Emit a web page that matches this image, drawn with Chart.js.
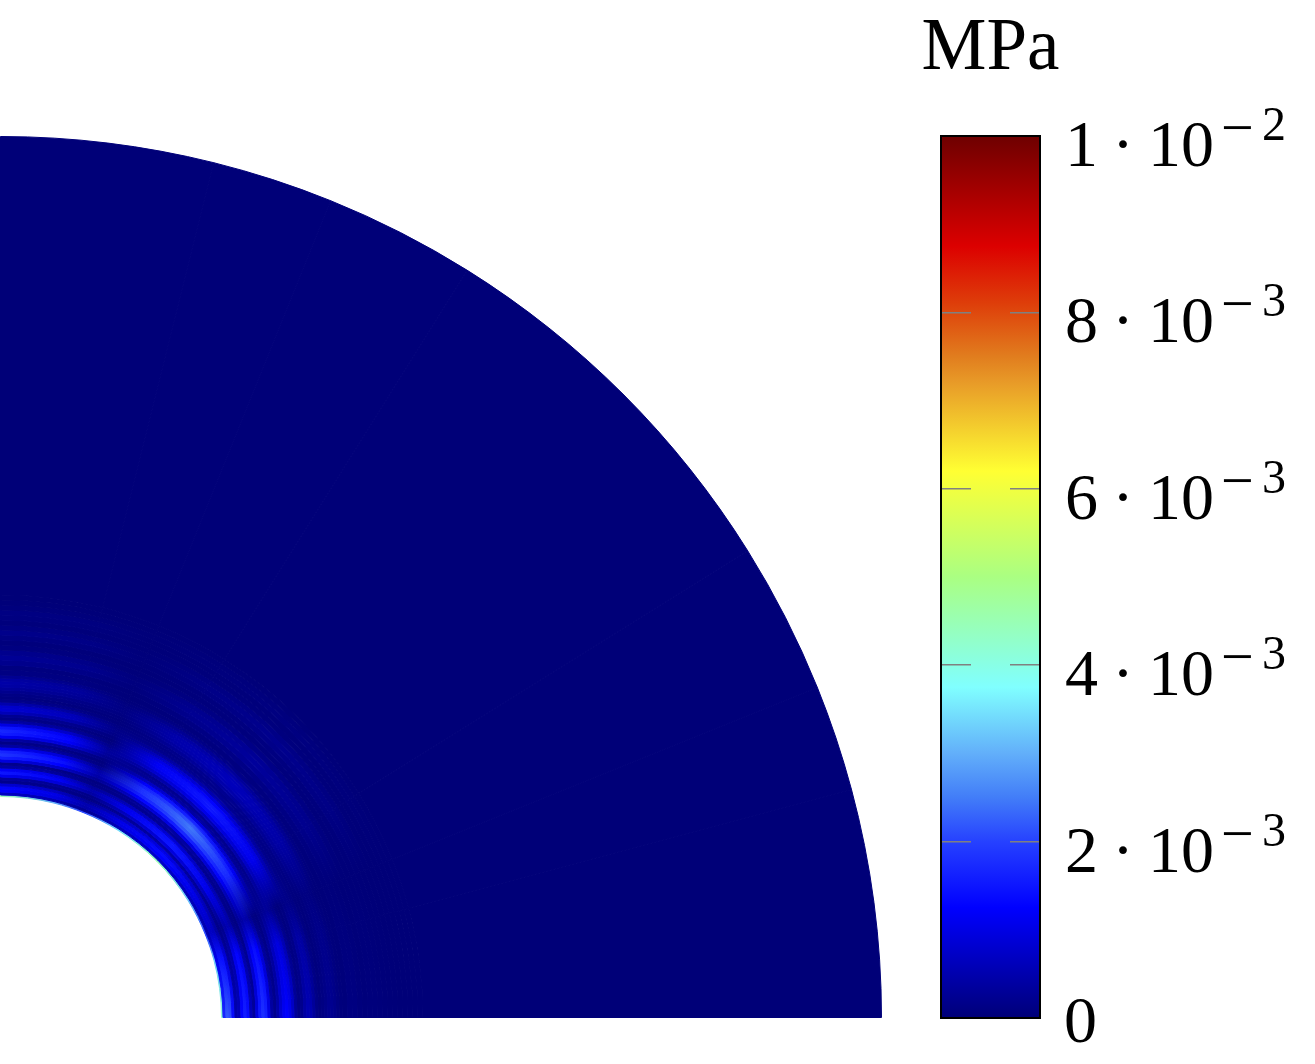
<!DOCTYPE html>
<html><head><meta charset="utf-8">
<style>
html,body{margin:0;padding:0;background:#fff;width:1315px;height:1064px;overflow:hidden}
canvas{position:absolute;display:block}
#field{left:0;top:136px}
#bar{left:666px;top:0}
</style>
<script src="https://cdn.jsdelivr.net/npm/chart.js@4"></script>
</head><body>
<canvas id="field" width="882" height="882" style="width:882px;height:882px"></canvas>
<canvas id="bar" width="649" height="1064" style="width:649px;height:1064px"></canvas>
<script>
// Colour scale, value in 1e-3 MPa
const scaleStops = [[0,[0,0,120]],[1.25,[0,0,255]],[2,[38,65,255]],[2.5,[66,125,248]],[3,[98,175,250]],[3.75,[128,255,255]],[5,[170,255,130]],[6.2,[255,255,51]],[7.2,[232,155,40]],[7.5,[225,125,30]],[8.1,[222,62,10]],[8.75,[220,0,0]],[10,[110,0,0]]];
const tickValues = [0,0.002,0.004,0.006,0.008,0.01];
const tickLabels = ['0','2 · 10','4 · 10','6 · 10','8 · 10','1 · 10'];
const tickExponents = ['','−3','−3','−3','−3','−2'];
const unitLabel = 'MPa';

// Ring widths from the inner hole outward (first is the thin rim)
const ringWidths = [1.5].concat(Array(40).fill(3), Array(16).fill(5));
// Stress (1e-3 MPa) along rays at these angles, ring by ring from the hole outward
const rayAngles = [90,76,68,58,45,32,22,15,0];
const ray90 = [4.5,
 .7,1.25,1.3,.85,.2,.35,1.1,1.5,1.2,.4,
 .2,.95,1.6,1.85,1.7,1.15,.4,.15,.4,1.15,
 1.6,1.7,1.5,1.0,.42,.15,.25,.6,.85,.8,
 .5,.18,.08,.12,.2,.32,.42,.45,.4,.25,
 .1,.08,.2,.28,.2,.08,.05,.1,.18,.1,.05,.08,.1,.05,.02,0];
const ray76 = [3.0,
 .5,.95,1.02,.68,.16,.26,.88,1.18,.94,.3,
 .16,.72,1.25,1.42,1.28,.85,.3,.12,.3,.88,
 1.22,1.3,1.15,.75,.32,.12,.2,.45,.62,.58,
 .36,.14,.06,.1,.15,.24,.3,.33,.3,.18,
 .08,.06,.14,.2,.15,.06,.03,.08,.13,.08,.03,.06,.07,.04,.01,0];
const ray68 = [2.0,
 .25,.45,.5,.3,.1,.14,.38,.48,.32,.12,
 .08,.24,.4,.48,.4,.22,.08,.06,.1,.2,
 .3,.33,.26,.16,.08,.05,.07,.12,.15,.14,
 .1,.06,.05,.06,.08,.1,.1,.08,.06,.03,
 .02,.02,.04,.06,.05,.02,.01,.02,.03,.03,.02,.01,.01,.02,.01,0];
const ray58 = [3.4,
 .6,.98,1.05,.72,.3,.68,1.12,1.08,.62,.22,
 .28,.75,1.25,1.6,1.8,1.8,1.6,1.22,.68,.28,
 .2,.42,.78,1.02,1.15,1.15,1.0,.7,.38,.18,
 .13,.17,.27,.36,.44,.47,.46,.38,.25,.12,
 .06,.1,.19,.24,.2,.1,.05,.06,.11,.14,.1,.04,.03,.05,.04,.01];
const ray45 = [4.5,
 .75,1.25,1.35,1.0,.45,.95,1.5,1.45,.85,.3,
 .4,1.05,1.7,2.15,2.4,2.45,2.2,1.7,1.0,.4,
 .25,.6,1.05,1.35,1.5,1.5,1.3,.95,.52,.25,
 .18,.22,.35,.48,.58,.62,.6,.5,.32,.16,
 .08,.14,.26,.32,.28,.14,.06,.08,.16,.2,.14,.06,.04,.08,.06,.02];
const ray32 = [3.2,
 .6,.95,1.02,.7,.28,.66,1.08,1.02,.58,.2,
 .25,.72,1.18,1.52,1.72,1.72,1.5,1.12,.62,.25,
 .18,.4,.72,.96,1.08,1.08,.94,.62,.32,.16,
 .12,.15,.24,.33,.4,.43,.42,.34,.22,.11,
 .06,.09,.16,.2,.18,.09,.04,.05,.1,.12,.08,.03,.02,.04,.03,.01];
const ray22 = [2.0,
 .5,.7,.65,.4,.15,.2,.42,.52,.42,.16,
 .1,.26,.38,.46,.4,.24,.1,.07,.12,.2,
 .26,.3,.24,.16,.08,.05,.07,.12,.15,.14,
 .1,.06,.05,.06,.08,.09,.08,.06,.03,.02,
 .02,.03,.03,.02,.01,.01,.01,.01,.01,0,0,0,0,0,0,0];
const ray15 = [3.2,
 1.1,1.45,1.4,.92,.32,.45,1.05,1.3,1.08,.45,
 .25,.75,1.2,1.4,1.25,.8,.3,.16,.33,.62,
 .85,.95,.82,.55,.22,.1,.15,.32,.42,.38,
 .24,.1,.05,.08,.12,.17,.17,.13,.07,.04,
 .03,.06,.06,.04,.02,.03,.03,.02,.01,.01,0,0,0,0,0,0];
const ray0 = [4.2,
 1.7,2.2,2.1,1.4,.5,.6,1.3,1.6,1.4,.6,
 .32,.95,1.55,1.8,1.65,1.05,.4,.2,.45,.85,
 1.15,1.25,1.1,.75,.3,.14,.2,.42,.55,.52,
 .32,.14,.07,.1,.16,.22,.22,.17,.09,.05,
 .04,.08,.08,.05,.03,.04,.04,.03,.02,.01,.01,0,0,0,0,0];
const rays = [ray90,ray76,ray68,ray58,ray45,ray32,ray22,ray15,ray0];
const farFieldValue = 0, farFieldWidth = 458.5, holeRadius = 221, outerRadius = 881;

function colourOf(v){
  for(let i=1;i<scaleStops.length;i++){
    if(v<=scaleStops[i][0]){
      const [a,ca]=scaleStops[i-1],[b,cb]=scaleStops[i],t=(v-a)/(b-a);
      return 'rgb('+ca.map((c,k)=>Math.round(c+(cb[k]-c)*t)).join(',')+')';
    }
  }
  return 'rgb(110,0,0)';
}
const sectors = rayAngles.slice(1).map((a,i)=>rayAngles[i]-a);

// Rings outermost first, as the doughnut stacks its datasets
const ringValues = ringWidths.map((w,i)=>rays.map(r=>r[i]));
ringValues.push(rays.map(()=>farFieldValue));
const widths = ringWidths.concat([farFieldWidth]);
const gradientCache = {};
function ringFill(ctx){
  const chart=ctx.chart, area=chart.chartArea, ringIndex=chart.data.datasets[ctx.datasetIndex].ring;
  const vals=ringValues[ringIndex];
  if(!area) return colourOf(vals[0]);
  if(gradientCache[ringIndex]) return gradientCache[ringIndex];
  const g=chart.ctx.createConicGradient(-Math.PI/2, area.left, area.bottom);
  rayAngles.forEach((a,i)=>g.addColorStop((90-a)/360,colourOf(vals[i])));
  g.addColorStop(1,colourOf(vals[vals.length-1]));
  gradientCache[ringIndex]=g;
  return g;
}
const ringDatasets = widths.map((w,i)=>({ring:i,weight:w,data:sectors,backgroundColor:ringFill,borderColor:ringFill,borderWidth:1})).reverse();

new Chart(document.getElementById('field'),{
  type:'doughnut',
  data:{labels:sectors.map((s,i)=>rayAngles[i]+'°'),datasets:ringDatasets},
  options:{responsive:false,animation:false,events:[],devicePixelRatio:1,
    rotation:0,circumference:90,cutout:(holeRadius/outerRadius*100)+'%',
    layout:{padding:0},
    plugins:{legend:{display:false},tooltip:{enabled:false}}}
});

// Colour bar
const serif='"Liberation Serif","DejaVu Serif",serif';
const barDecor={id:'barDecor',
  afterDraw(chart){
    const {ctx,chartArea:a,scales:{y}}=chart;
    ctx.save();
    ctx.strokeStyle='#000';ctx.lineWidth=2;
    ctx.strokeRect(a.left,a.top,a.right-a.left,a.bottom-a.top);
    ctx.fillStyle='#000';ctx.textBaseline='alphabetic';ctx.textAlign='left';
    tickValues.forEach((v,i)=>{
      const py=y.getPixelForValue(v);
      ctx.font='66px '+serif;
      if(!tickExponents[i]){ctx.fillText(tickLabels[i],a.right+24,py+24);return;}
      ctx.wordSpacing='-2.5px';
      ctx.fillText(tickLabels[i],a.right+25,py+30);
      ctx.wordSpacing='0px';
      ctx.font='58px '+serif;
      ctx.fillText(tickExponents[i][0],a.right+181,py+11);
      ctx.font='48px '+serif;
      ctx.fillText(tickExponents[i][1],a.right+222,py+4);
    });
    ctx.restore();
  }
};
const sideWidth=s=>{s.width=275;};
new Chart(document.getElementById('bar'),{
  type:'bar',
  data:{labels:[unitLabel],datasets:[{
    data:[[tickValues[0],tickValues[tickValues.length-1]]],
    barPercentage:1,categoryPercentage:1,borderWidth:0,
    backgroundColor(ctx){
      const c=ctx.chart;
      if(!c.chartArea) return '#000078';
      const y=c.scales.y, lo=y.getPixelForValue(0), hi=y.getPixelForValue(0.01);
      const g=c.ctx.createLinearGradient(0,lo,0,hi);
      scaleStops.forEach(([v,col])=>g.addColorStop(v/10,'rgb('+col.join(',')+')'));
      return g;
    }
  }]},
  options:{responsive:false,animation:false,events:[],devicePixelRatio:1,
    layout:{padding:{left:0,right:0,bottom:46,top:0}},
    scales:{
      x:{display:false},
      y:{min:0,max:0.01,afterFit:sideWidth,
        ticks:{display:false,stepSize:0.002},
        border:{display:false,dash:[30,39,30,0]},
        grid:{z:1,drawTicks:false,lineWidth:1.5,
          color:c=>(c.index===0||c.index===tickValues.length-1)?'rgba(0,0,0,0)':'#808080'}},
      yRight:{position:'right',min:0,max:0.01,afterFit:sideWidth,
        ticks:{display:false},border:{display:false},grid:{display:false,drawTicks:false}}
    },
    plugins:{legend:{display:false},tooltip:{enabled:false},
      title:{display:true,text:unitLabel,color:'#000',
        font:{family:serif,size:73,weight:'normal',lineHeight:1.2},
        padding:{top:6,bottom:42.4}}}
  },
  plugins:[barDecor]
});
</script>
</body></html>
